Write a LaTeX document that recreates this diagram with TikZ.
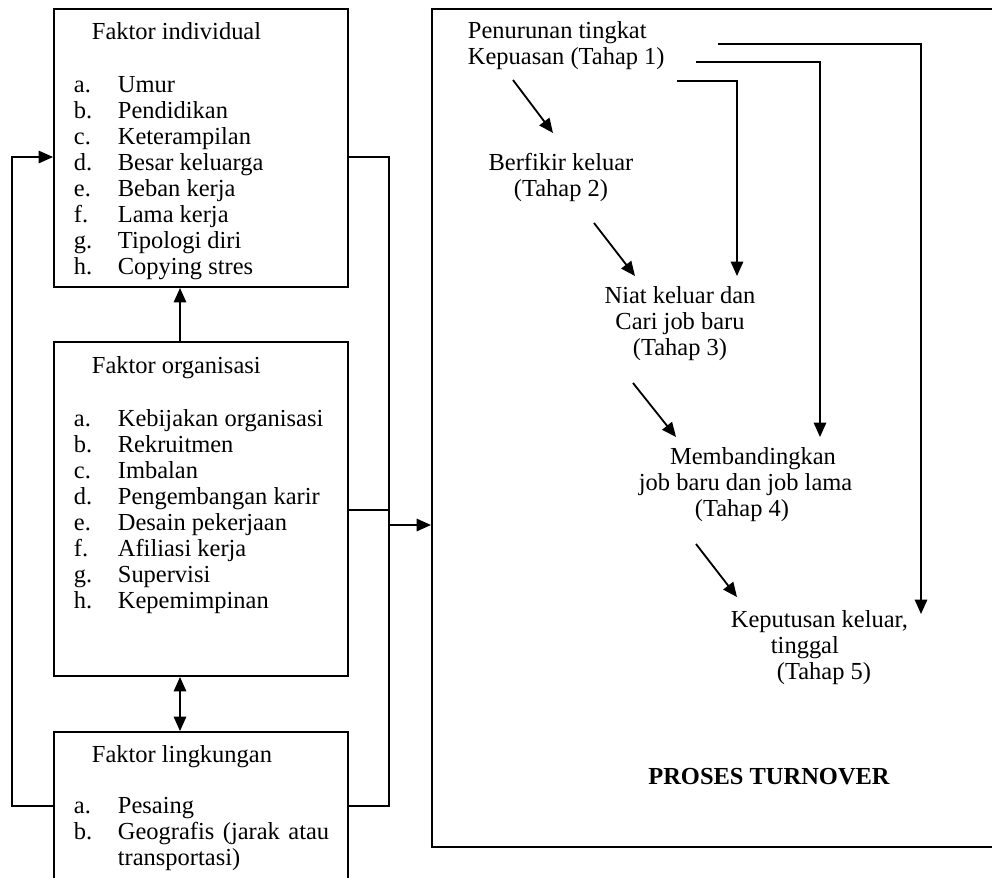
\documentclass[tikz,border=0pt]{standalone}
\usepackage{fontspec}
\setmainfont{Liberation Serif}
\usetikzlibrary{arrows.meta}

\begin{document}
\begin{tikzpicture}[x=0.025cm, y=-0.025cm, line width=1.3pt,
  >={Triangle[length=0.36cm,width=0.31cm]},
  font=\fontsize{17.4}{18.5}\selectfont,
  box/.style={draw, inner sep=0, minimum width=7.35cm},
  txt/.style={inner sep=0, align=center}]
  \clip (0,0) rectangle (992,877);

  % Boxes for the three factors
  \node[box, minimum height=6.95cm] (ind) at (201,148) {};
  \node[box, minimum height=8.35cm] (org) at (201,509) {};
  \node[box, minimum height=4.2cm] (ling) at (201,816) {};
  \node[draw, inner sep=0, minimum width=14.2cm, minimum height=20.95cm] (proses) at (716,428) {};

  % Texts of the factors
  \node[anchor=base west, inner sep=0] (indtitle) at (91,39) {Faktor individual};
  \node[anchor=base west, inner sep=0] (indlist) at (73,92) {\begin{tabular}[t]{@{}p{1.1cm}@{}l@{}}
    a. & Umur\\ b. & Pendidikan\\ c. & Keterampilan\\ d. & Besar keluarga\\
    e. & Beban kerja\\ f. & Lama kerja\\ g. & Tipologi diri\\ h. & Copying stres
  \end{tabular}};
  \node[anchor=base west, inner sep=0] (orgtitle) at (91,373) {Faktor organisasi};
  \node[anchor=base west, inner sep=0] (orglist) at (73,426) {\begin{tabular}[t]{@{}p{1.1cm}@{}l@{}}
    a. & Kebijakan organisasi\\ b. & Rekruitmen\\ c. & Imbalan\\ d. & Pengembangan karir\\
    e. & Desain pekerjaan\\ f. & Afiliasi kerja\\ g. & Supervisi\\ h. & Kepemimpinan
  \end{tabular}};
  \node[anchor=base west, inner sep=0] (lingtitle) at (91,762) {Faktor lingkungan};
  \node[anchor=base west, inner sep=0] (linglist) at (73,813) {\begin{tabular}[t]{@{}p{1.1cm}@{}l@{}}
    a. & Pesaing\\ b. & \makebox[5.28cm][s]{Geografis (jarak atau}\\ & transportasi)
  \end{tabular}};

  % Levels of the connectors
  \coordinate (midx) at (180,0);
  \coordinate (leftx) at (12,0);
  \coordinate (rightx) at (389,0);
  \coordinate (upy) at (0,157);
  \coordinate (orgy) at (0,510);
  \coordinate (arry) at (0,525);
  \coordinate (lowy) at (0,806);

  % Connectors between the factors
  \draw[->] (org.north -| midx) -- (ind.south -| midx);
  \draw[<->] (org.south -| midx) -- (ling.north -| midx);
  \draw[->] (ling.west |- lowy) -| (leftx |- upy) -- (ind.west |- upy);
  \draw (ind.east |- upy) -| (rightx |- lowy) -- (ling.east |- lowy);
  \draw (org.east |- orgy) -- (rightx |- orgy);
  \draw[->] (rightx |- arry) -- (proses.west |- arry);

  % Stages of the turnover process
  \node[inner sep=0, anchor=west, align=left] (t1) at (467,46) {Penurunan tingkat\\Kepuasan (Tahap 1)};
  \node[txt] (t2) at (561,177) {Berfikir keluar\\(Tahap 2)};
  \node[txt] (t3) at (680,324) {Niat keluar dan\\Cari job baru\\(Tahap 3)};
  \node[inner sep=0, anchor=west, align=left] (t4) at (638,485) {\hspace*{0.78cm}Membandingkan\\job baru dan job lama\\\hspace*{1.4cm}(Tahap 4)};
  \node[inner sep=0, anchor=west, align=left] (t5) at (730,648) {Keputusan keluar,\\\hspace*{1cm}tinggal\\\hspace*{1.15cm}(Tahap 5)};
  \node[inner sep=0, anchor=base] (judul) at (769,784) {\bfseries PROSES TURNOVER};

  % Arrows from stage to stage
  \coordinate (d1s) at (513,80);  \coordinate (d1e) at (553,133);
  \coordinate (d2s) at (594,223); \coordinate (d2e) at (635,276);
  \coordinate (d3s) at (633,383); \coordinate (d3e) at (676,437);
  \coordinate (d4s) at (696,544); \coordinate (d4e) at (737,597);
  \draw[->] (d1s) -- (d1e);
  \draw[->] (d2s) -- (d2e);
  \draw[->] (d3s) -- (d3e);
  \draw[->] (d4s) -- (d4e);

  % Lines from stage 1 to the later stages
  \coordinate (fb1s) at (718,44); \coordinate (fb1e) at (921,614);
  \coordinate (fb2s) at (696,62); \coordinate (fb2e) at (820,437);
  \coordinate (fb3s) at (677,81); \coordinate (fb3e) at (737,276);
  \draw[->] (fb1s) -| (fb1e);
  \draw[->] (fb2s) -| (fb2e);
  \draw[->] (fb3s) -| (fb3e);
\end{tikzpicture}
\end{document}
